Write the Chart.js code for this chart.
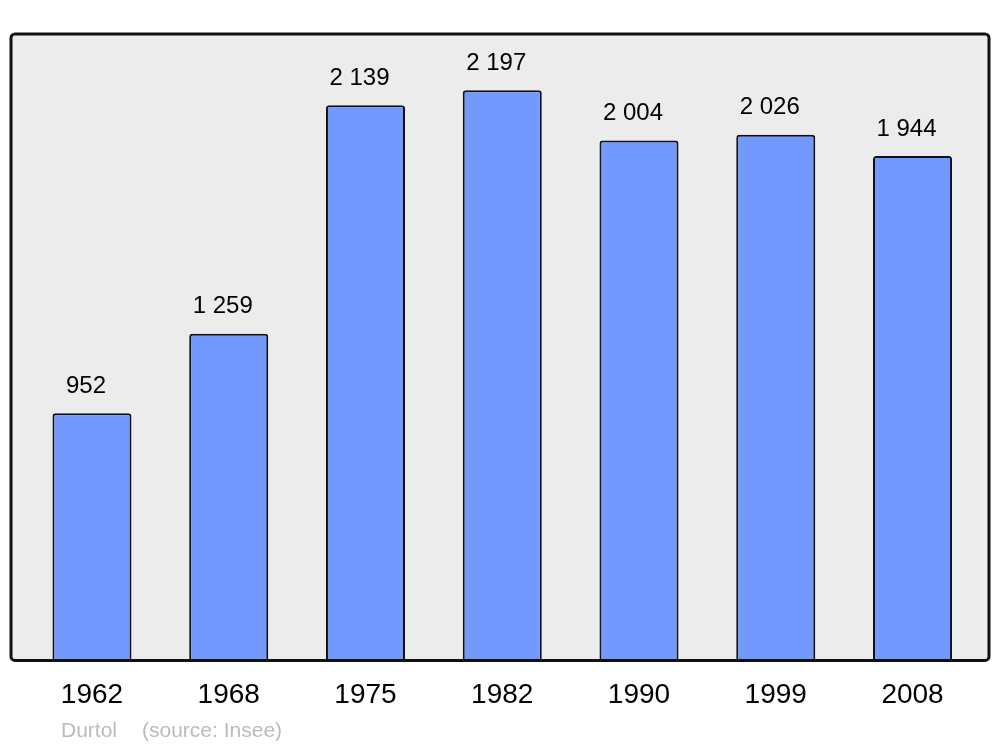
<!DOCTYPE html>
<html>
<head>
<meta charset="utf-8">
<script src="https://cdn.jsdelivr.net/npm/chart.js@4/dist/chart.umd.min.js"></script>
<style>
    html, body { margin: 0; padding: 0; background: #fff; }
    #wrap { width: 1000px; height: 747px; position: relative; }
</style>
</head>
<body>
<div id="wrap"><canvas id="popChart"></canvas></div>
<script>
// Population data (Durtol, source: Insee)
const years = ['1962', '1968', '1975', '1982', '1990', '1999', '2008'];
const population = [952, 1259, 2139, 2197, 2004, 2026, 1944];
const footerName = 'Durtol';
const footerSource = '(source: Insee)';

function formatNumber(v) {
    return String(v).replace(/\B(?=(\d{3})+(?!\d))/g, ' ');
}

// Grey framed background behind the bars
function framePath(chart) {
    const { ctx, chartArea } = chart;
    const x0 = chartArea.left - 12.6;
    const x1 = chartArea.right + 8.1;
    ctx.beginPath();
    ctx.roundRect(x0, chartArea.top, x1 - x0, chartArea.bottom - chartArea.top, 4);
}

const frameBackground = {
    id: 'frameBackground',
    beforeDatasetsDraw(chart) {
        const { ctx } = chart;
        ctx.save();
        framePath(chart);
        ctx.fillStyle = '#ececec';
        ctx.fill();
        ctx.restore();
    },
    afterDatasetsDraw(chart) {
        const { ctx } = chart;
        ctx.save();
        framePath(chart);
        ctx.lineWidth = 3;
        ctx.strokeStyle = '#111';
        ctx.stroke();
        ctx.restore();
    }
};

// Value labels above bars + footer text
const valueLabels = {
    id: 'valueLabels',
    afterDraw(chart) {
        const { ctx } = chart;
        const meta = chart.getDatasetMeta(0);
        ctx.save();
        ctx.font = '24px "Liberation Sans", Arial, sans-serif';
        ctx.fillStyle = '#000';
        ctx.textAlign = 'center';
        ctx.textBaseline = 'middle';
        meta.data.forEach((bar, i) => {
            ctx.fillText(formatNumber(population[i]), bar.x - 6, bar.y - 27);
        });
        ctx.font = '21px "Liberation Sans", Arial, sans-serif';
        ctx.fillStyle = '#bbb';
        ctx.textAlign = 'left';
        ctx.fillText(footerName, 61, 731);
        ctx.fillText(footerSource, 142, 731);
        ctx.restore();
    }
};

const ctx = document.getElementById('popChart').getContext('2d');
const chart = new Chart(ctx, {
    type: 'bar',
    data: {
        labels: years,
        datasets: [{
            data: population,
            backgroundColor: '#7399ff',
            borderColor: '#111',
            borderWidth: 2,
            borderRadius: { topLeft: 3, topRight: 3, bottomLeft: 0, bottomRight: 0 },
            borderSkipped: 'bottom',
            barPercentage: 0.578,
            categoryPercentage: 1.0
        }]
    },
    options: {
        responsive: true,
        maintainAspectRatio: false,
        animation: false,
        layout: {
            padding: { top: 34, bottom: 17, left: 23.6, right: 19.1 }
        },
        scales: {
            x: {
                grid: { display: false, drawTicks: false },
                border: { display: false },
                ticks: {
                    color: '#000',
                    padding: 18,
                    font: { size: 28, family: '"Liberation Sans", Arial, sans-serif' }
                }
            },
            y: {
                display: false,
                min: 0,
                max: 2414
            }
        },
        plugins: {
            legend: { display: false },
            tooltip: { enabled: false }
        }
    },
    plugins: [frameBackground, valueLabels]
});
</script>
</body>
</html>
